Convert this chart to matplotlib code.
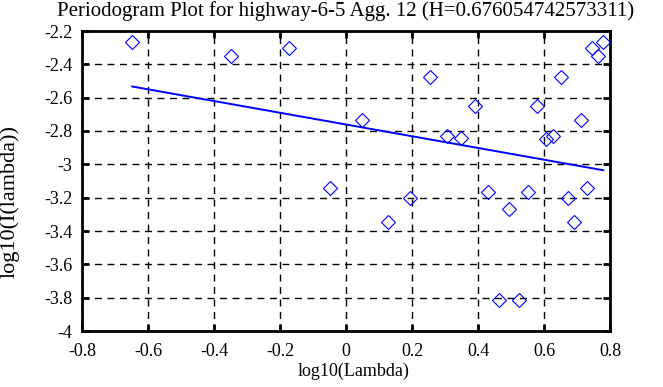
import matplotlib
matplotlib.use("Agg")
import matplotlib.pyplot as plt
import numpy as np

# log10 frequency and log10 periodogram values
log_lambda = [-0.648, -0.348, -0.172, -0.048, 0.048, 0.128, 0.195, 0.255, 0.305, 0.348,
              0.391, 0.430, 0.465, 0.495, 0.525, 0.553, 0.580, 0.606, 0.628, 0.651,
              0.673, 0.692, 0.711, 0.729, 0.745, 0.765, 0.780]
log_I = [-2.264, -2.350, -2.300, -3.144, -2.734, -3.344, -3.200, -2.474, -2.828, -2.844,
         -2.648, -3.166, -3.812, -3.270, -3.812, -3.166, -2.648, -2.848, -2.828, -2.474,
         -3.200, -3.344, -2.734, -3.140, -2.300, -2.350, -2.264]

# fitted regression line (log10 I = intercept + slope * log10 lambda)
fit_intercept = -2.761
fit_slope = -0.352

x_ticks = [-0.8, -0.6, -0.4, -0.2, 0, 0.2, 0.4, 0.6, 0.8]
x_tick_labels = ["-0.8", "-0.6", "-0.4", "-0.2", "0", "0.2", "0.4", "0.6", "0.8"]
y_ticks = [-4, -3.8, -3.6, -3.4, -3.2, -3, -2.8, -2.6, -2.4, -2.2]
y_tick_labels = ["-4", "-3.8", "-3.6", "-3.4", "-3.2", "-3", "-2.8", "-2.6", "-2.4", "-2.2"]

title = "Periodogram Plot for highway-6-5 Agg. 12 (H=0.676054742573311)"

plt.rcParams['font.family'] = ['Liberation Serif', 'DejaVu Serif']

fig = plt.figure(figsize=(6.63, 3.87), dpi=100)
ax = fig.add_axes([82/663, 1-331/387, (610-82)/663, (331-31)/387])

ax.plot(log_lambda, log_I, linestyle='none', marker='D', markersize=7.5,
        markerfacecolor='none', markeredgecolor='#0000ff', markeredgewidth=0.8, zorder=3)

xl = np.array([min(log_lambda), max(log_lambda)])
ax.plot(xl, fit_intercept + fit_slope * xl, color='#0000ff', linewidth=1.4, zorder=3)

ax.set_xlim(-0.8, 0.8)
ax.set_ylim(-4, -2.2)
ax.set_xticks(x_ticks)
ax.set_xticklabels(x_tick_labels)
ax.set_yticks(y_ticks)
ax.set_yticklabels(y_tick_labels)
ax.grid(True, color='black', linestyle=(0, (5, 4)), linewidth=1.0)
ax.tick_params(direction='in', length=5, width=2, top=True, right=True, labelsize=13)
ax.tick_params(axis='x', pad=9)
ax.tick_params(axis='y', pad=7)
for s in ax.spines.values():
    s.set_linewidth(2)

ax.set_xlabel("log10(Lambda)", fontsize=13)
ax.xaxis.set_label_coords((354-82)/528, (331-363)/300)
ax.set_ylabel("log10(I(lambda))", fontsize=16)
ax.yaxis.set_label_coords((20-82)/528, (331-201)/300)
ax.set_title(title, fontsize=15, pad=11)

fig.savefig("out.png", dpi=100)
